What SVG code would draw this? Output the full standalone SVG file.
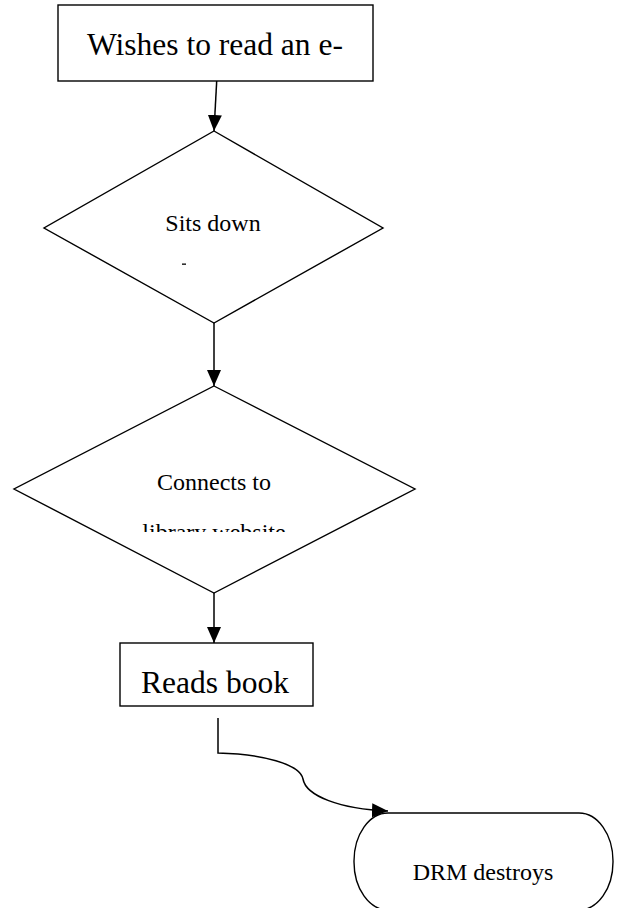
<svg xmlns="http://www.w3.org/2000/svg" width="621" height="908" viewBox="0 0 621 908">
<style>
.shape{fill:#fff;stroke:#000;stroke-width:1.4}
.conn{fill:none;stroke:#000;stroke-width:1.5}
text{fill:#000;text-anchor:middle}
.big{font-size:31.5px}
.mid{font-size:24px}
</style>
<defs>
<marker id="ah" markerUnits="userSpaceOnUse" markerWidth="16" markerHeight="14" refX="16" refY="7" orient="auto">
<path d="M0,0 L16,7 L0,14 Z" fill="#000"/>
</marker>
<clipPath id="clip2"><rect x="0" y="500" width="621" height="32"/></clipPath>
</defs>
<g id="connectors">
<line class="conn" x1="216.7" y1="81" x2="214" y2="131" marker-end="url(#ah)"/>
<line class="conn" x1="214" y1="323" x2="214" y2="386" marker-end="url(#ah)"/>
<line class="conn" x1="214" y1="593" x2="214" y2="643" marker-end="url(#ah)"/>
<path class="conn" d="M218 718 V753 C262 754 300 764 303 779 C306 796 340 809 388 811" marker-end="url(#ah)"/>
</g>
<g id="n1">
<rect class="shape" x="58" y="5" width="315" height="76"/>
<text class="big" x="215" y="55" font-family="Liberation Serif, serif">Wishes to read an e-</text>
</g>
<g id="n2">
<polygon class="shape" points="214,131 383,228 214,323 44,228"/>
<text class="mid" x="213" y="231" font-family="Liberation Serif, serif">Sits down</text>
<rect x="182" y="263.5" width="4" height="1.3" fill="#000"/>
</g>
<g id="n3">
<polygon class="shape" points="214,386 415,489 214,593 14,489"/>
<text class="mid" x="214" y="490" font-family="Liberation Serif, serif">Connects to</text>
<text class="mid" x="214" y="540" font-family="Liberation Serif, serif" clip-path="url(#clip2)">library website</text>
</g>
<g id="n4">
<rect class="shape" x="120" y="643" width="193" height="63"/>
<text class="big" x="215" y="693" font-family="Liberation Serif, serif">Reads book</text>
</g>
<g id="n5">
<rect class="shape" x="354" y="813" width="259" height="97" rx="34" ry="48"/>
<text class="mid" x="483" y="880" font-family="Liberation Serif, serif">DRM destroys</text>
</g>
</svg>
